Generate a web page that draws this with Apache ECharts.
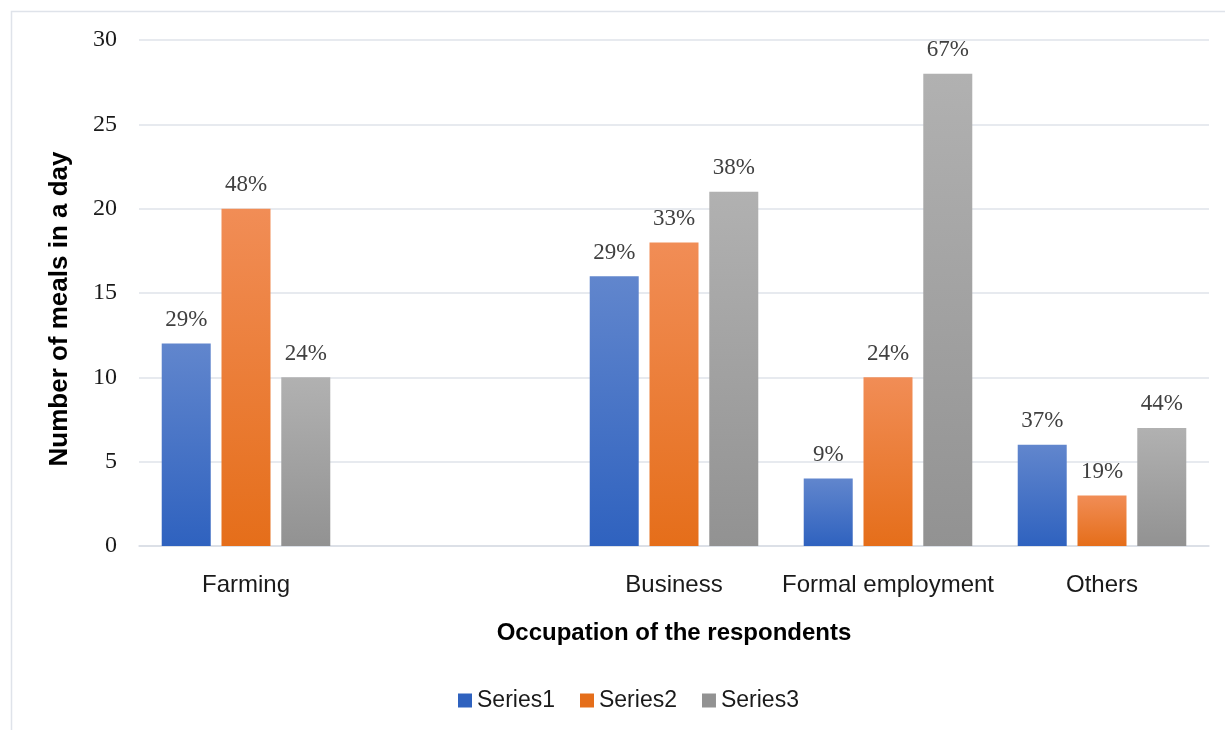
<!DOCTYPE html>
<html lang="en">
<head>
    <meta charset="UTF-8">
    <title>Occupation of the respondents</title>
    <style>
        *{
            margin:0;
            padding:0;
            box-sizing:border-box;
        }
        html, body{
            height:100%;
            width:100%;
            background:#fff;
        }
        #myChart{
            height:730px;
            width:1225px;
        }
    </style>
</head>
<body>
<div id="myChart"></div>
<script src="https://cdn.jsdelivr.net/npm/echarts@6/dist/echarts.min.js"></script>
<script>
    // categories (the blank one is the empty slot between Farming and Business)
    var categories = ['Farming', '', 'Business', 'Formal employment', 'Others'];
    var seriesNames = ['Series1', 'Series2', 'Series3'];

    var series1 = [12, null, 16, 4, 6];
    var series2 = [20, null, 18, 10, 3];
    var series3 = [10, null, 21, 28, 7];

    var labels1 = ['29%', '', '29%', '9%', '37%'];
    var labels2 = ['48%', '', '33%', '24%', '19%'];
    var labels3 = ['24%', '', '38%', '67%', '44%'];

    var yTicks = [0, 5, 10, 15, 20, 25, 30];

    var gradients = [
        ['#6186cd', '#2f62bf'],
        ['#f18d56', '#e56e1a'],
        ['#b1b1b1', '#929292']
    ];

    var sans = '"Liberation Sans", Arial, sans-serif';
    var serif = '"Liberation Serif", "Times New Roman", serif';

    function grad(c) {
        return new echarts.graphic.LinearGradient(0, 0, 0, 1, [
            {offset:0, color:c[0]},
            {offset:1, color:c[1]}
        ]);
    }

    function makeSeries(name, values, labels, colors) {
        return {
            name:name,
            type:'bar',
            barWidth:49,
            barGap:'22%',
            data:values,
            itemStyle:{color:grad(colors)},
            label:{
                show:true,
                position:'top',
                distance:12,
                fontFamily:serif,
                fontSize:23,
                color:'#404040',
                formatter:function(p) {
                    return labels[p.dataIndex];
                }
            }
        };
    }

    var myChart = echarts.init(document.getElementById('myChart'), null, {renderer:'canvas'});
    var option = {
        animation:false,
        backgroundColor:'#fff',
        graphic:[
            {
                type:'rect',
                shape:{x:11.5, y:11.5, width:1240, height:760},
                style:{fill:'none', stroke:'#dfe3ea', lineWidth:1.5},
                silent:true
            }
        ],
        grid:{
            left:139,
            right:16,
            top:40,
            bottom:184
        },
        legend:{
            data:seriesNames.map(function(n, i) {
                return {name:n, itemStyle:{color:gradients[i][1]}};
            }),
            bottom:13,
            left:453,
            icon:'rect',
            itemWidth:14,
            itemHeight:14,
            itemGap:25,
            textStyle:{
                fontFamily:sans,
                fontSize:23,
                color:'#1a1a1a'
            }
        },
        xAxis:{
            type:'category',
            data:categories,
            name:'Occupation of the respondents',
            nameLocation:'middle',
            nameGap:75,
            nameTextStyle:{
                fontFamily:sans,
                fontSize:24,
                fontWeight:'bold',
                color:'#000'
            },
            axisLine:{lineStyle:{color:'#d9dde5', width:1.5}},
            axisTick:{show:false},
            axisLabel:{
                interval:0,
                margin:27,
                fontFamily:sans,
                fontSize:24,
                color:'#1a1a1a'
            }
        },
        yAxis:{
            type:'value',
            min:yTicks[0],
            max:yTicks[yTicks.length - 1],
            interval:yTicks[1] - yTicks[0],
            name:'Number of meals in a day',
            nameLocation:'middle',
            nameGap:66,
            nameRotate:90,
            nameTextStyle:{
                fontFamily:sans,
                fontSize:26,
                fontWeight:'bold',
                color:'#000',
                padding:[0, 32, 0, 0]
            },
            axisLine:{show:false},
            axisTick:{show:false},
            splitLine:{lineStyle:{color:'#dfe3ea', width:1.5}},
            axisLabel:{
                margin:22,
                fontFamily:serif,
                fontSize:24,
                color:'#1a1a1a'
            }
        },
        series:[
            makeSeries(seriesNames[0], series1, labels1, gradients[0]),
            makeSeries(seriesNames[1], series2, labels2, gradients[1]),
            makeSeries(seriesNames[2], series3, labels3, gradients[2])
        ]
    };
    myChart.setOption(option);
</script>
</body>
</html>
